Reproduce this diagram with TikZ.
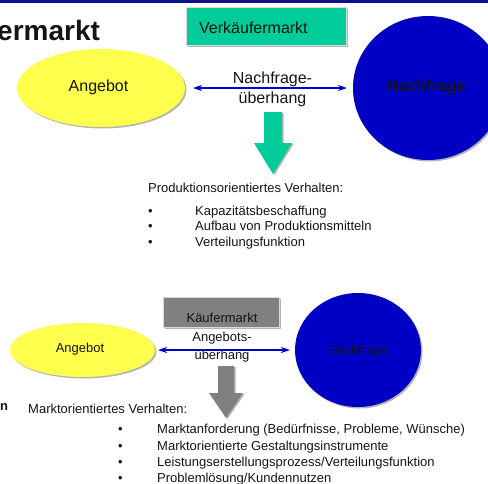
\documentclass[tikz,border=0pt]{standalone}
\usepackage{fontspec}
\setmainfont{Liberation Sans}
\usetikzlibrary{shapes.geometric,arrows.meta,shadows}
\definecolor{mint}{HTML}{00CC99}
\definecolor{yel}{HTML}{FFFF4D}
\definecolor{dblue}{HTML}{0000C4}
\definecolor{lblue}{HTML}{0000CC}
\definecolor{navy}{HTML}{10108A}
\definecolor{gbox}{HTML}{808080}
\definecolor{shd}{HTML}{B4B4B4}
\definecolor{txt}{HTML}{141414}
\begin{document}
\begin{tikzpicture}[x=1pt,y=-1pt,
  sh/.style={drop shadow={shadow xshift=1.5pt,shadow yshift=-1.5pt,fill=shd,opacity=1}},
  shape16/.style={inner sep=0pt,outer sep=0pt},
  fa/.style={font=\fontsize{16}{18}\selectfont,text=txt,inner sep=0pt},
  fb/.style={font=\fontsize{13}{15}\selectfont,text=txt,inner sep=0pt},
  blob/.style={ellipse,shape16,sh},
  mbox/.style={rectangle,shape16,draw=white!85!black,line width=0.6pt,sh},
  barrow/.style={{Stealth[length=9pt,width=6pt]}-{Stealth[length=9pt,width=6pt]},draw=lblue,line width=1.6pt}
]
\useasboundingbox (0,0) rectangle (488,483);
\fill[navy] (0,0) rectangle (488,2.5);

% title fragment
\node[anchor=base west,inner sep=0pt,text=txt,font=\bfseries\fontsize{28}{30}\selectfont] (title) at (-3,40) {ermarkt};

% ---------- Verkaeufermarkt ----------
\node[mbox,fill=mint,minimum width=160pt,minimum height=38pt] (vk) at (266,26) {};
\node[fa,anchor=base west] (vkt) at (199,33.5) {Verkäufermarkt};

\node[blob,fill=yel,minimum width=168pt,minimum height=78pt] (ang1) at (101,88) {};
\node[fa,anchor=base] (ang1t) at (98.5,91.5) {Angebot};

\node[blob,fill=dblue,minimum width=150pt,minimum height=144pt] (nf1) at (428,88) {};
\node[fa,anchor=base,font=\bfseries\fontsize{16}{18}\selectfont] (nf1t) at (426.5,91.5) {Nachfrage};

\draw[barrow,shorten <=8pt,shorten >=6pt] (ang1.east) -- (nf1.west);
\node[fa,anchor=base] (u1a) at (272.5,83) {Nachfrage-};
\node[fa,anchor=base] (u1b) at (272.5,103.5) {überhang};

\fill[shd,shift={(1.5,1)}] (264,112) -- (282,112) -- (282,143) -- (292,143) -- (273,174) -- (254,143) -- (264,143) -- cycle;
\fill[mint] (264,112) -- (282,112) -- (282,143) -- (292,143) -- (273,174) -- (254,143) -- (264,143) -- cycle;

\node[fb,anchor=base west] (pv) at (148,192) {Produktionsorientiertes Verhalten:};
\node[fb,anchor=base west] (pb1) at (148,215) {•};
\node[fb,anchor=base west] (pt1) at (195,215) {Kapazitätsbeschaffung};
\node[fb,anchor=base west] (pb2) at (148,230.5) {•};
\node[fb,anchor=base west] (pt2) at (195,230.5) {Aufbau von Produktionsmitteln};
\node[fb,anchor=base west] (pb3) at (148,246) {•};
\node[fb,anchor=base west] (pt3) at (195,246) {Verteilungsfunktion};

% ---------- Kaeufermarkt ----------
\node[mbox,fill=gbox,minimum width=116pt,minimum height=30pt] (kf) at (221,312) {};
\node[fb,anchor=base] (kft) at (222,322) {Käufermarkt};

\node[blob,fill=yel,minimum width=145pt,minimum height=54pt] (ang2) at (82.5,350) {};
\node[fb,anchor=base] (ang2t) at (80,352) {Angebot};

\node[blob,fill=dblue,minimum width=126pt,minimum height=114pt] (nf2) at (358,350) {};
\node[fb,anchor=base] (nf2t) at (358,354) {Nachfrage};

\draw[barrow,shorten <=3pt,shorten >=5pt] (ang2.east) -- (nf2.west);
\node[fb,anchor=base] (u2a) at (222,341) {Angebots-};
\node[fb,anchor=base] (u2b) at (222,359) {überhang};

\fill[shd,shift={(1.5,1)}] (218,366) -- (234,366) -- (234,393) -- (243,393) -- (226,418) -- (209,393) -- (218,393) -- cycle;
\fill[gbox] (218,366) -- (234,366) -- (234,393) -- (243,393) -- (226,418) -- (209,393) -- (218,393) -- cycle;

\node[fb,anchor=base west,font=\bfseries\fontsize{13}{15}\selectfont] (nfrag) at (0,410) {n};
\node[fb,anchor=base west] (mv) at (28,413) {Marktorientiertes Verhalten:};
\node[fb,anchor=base west] (mb1) at (118,433) {•};
\node[fb,anchor=base west] (mt1) at (157,433) {Marktanforderung (Bedürfnisse, Probleme, Wünsche)};
\node[fb,anchor=base west] (mb2) at (118,450) {•};
\node[fb,anchor=base west] (mt2) at (157,450) {Marktorientierte Gestaltungsinstrumente};
\node[fb,anchor=base west] (mb3) at (118,466) {•};
\node[fb,anchor=base west] (mt3) at (157,466) {Leistungserstellungsprozess/Verteilungsfunktion};
\node[fb,anchor=base west] (mb4) at (118,482) {•};
\node[fb,anchor=base west] (mt4) at (157,482) {Problemlösung/Kundennutzen};
\end{tikzpicture}
\end{document}
